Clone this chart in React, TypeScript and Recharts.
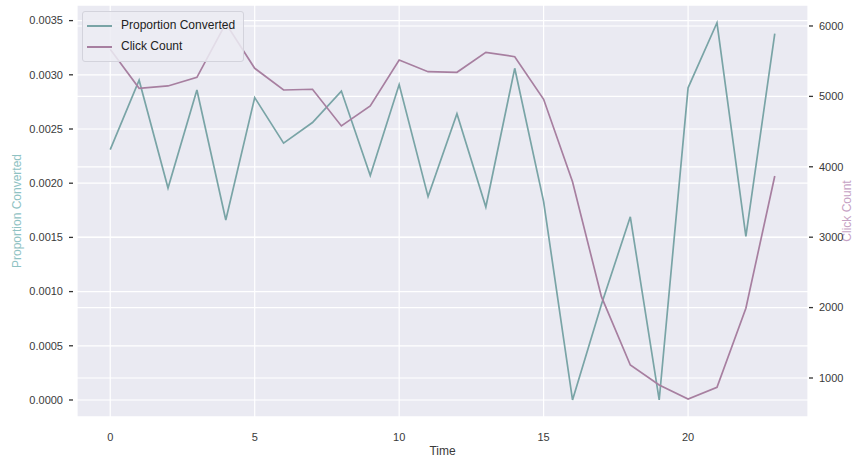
import React from "react";
import { LineChart, Line, XAxis, YAxis, CartesianGrid, Legend, Label } from "recharts";

const times = [0, 1, 2, 3, 4, 5, 6, 7, 8, 9, 10, 11, 12, 13, 14, 15, 16, 17, 18, 19, 20, 21, 22, 23];
const proportionConverted = [
  0.00231, 0.00295, 0.001955, 0.00286, 0.00166, 0.00279, 0.00237, 0.00256, 0.00285, 0.00207, 0.00291, 0.001876,
  0.00264, 0.00178, 0.00306, 0.00183, 0.0, 0.00088, 0.00169, 0.0, 0.00288, 0.00348, 0.00151, 0.00338,
];
const clickCount = [
  5669, 5115, 5148, 5271, 6038, 5399, 5091, 5101, 4580, 4864, 5517, 5351,
  5342, 5626, 5564, 4959, 3788, 2155, 1185, 900, 702, 868, 1990, 3869,
];
const timeTicks = [0, 5, 10, 15, 20];
const proportionTicks = [0, 0.0005, 0.001, 0.0015, 0.002, 0.0025, 0.003, 0.0035];
const clickTicks = [1000, 2000, 3000, 4000, 5000, 6000];
const legendOrder = ["Proportion Converted", "Click Count"];

const TEAL = "#79a4a6";
const PURPLE = "#a77fa0";
const TEXT = "#3a3a3a";

const data = times.map((t, i) => ({
  time: t,
  proportion: proportionConverted[i],
  clicks: clickCount[i],
}));

function LeftTick({ x, y, payload }: any) {
  return (
    <g>
      <line x1={x - 8} x2={x - 4} y1={y} y2={y} stroke="#333" strokeWidth={1.3} />
      <text x={x - 14} y={y} dy="0.35em" textAnchor="end" fontSize={11} fill={TEXT}>
        {Number(payload.value).toFixed(4)}
      </text>
    </g>
  );
}

function RightTick({ x, y, payload }: any) {
  return (
    <g>
      <line x1={x + 1} x2={x + 5} y1={y} y2={y} stroke="#333" strokeWidth={1.3} />
      <text x={x + 11} y={y} dy="0.35em" textAnchor="start" fontSize={11} fill={TEXT}>
        {payload.value}
      </text>
    </g>
  );
}

function BottomTick({ x, y, payload }: any) {
  return (
    <text x={x} y={y + 24} textAnchor="middle" fontSize={11} fill={TEXT}>
      {payload.value}
    </text>
  );
}

function LegendBox({ payload }: any) {
  const items = [...(payload || [])].sort(
    (a: any, b: any) => legendOrder.indexOf(a.value) - legendOrder.indexOf(b.value)
  );
  return (
    <div
      style={{
        background: "rgba(236,236,243,0.85)",
        border: "1px solid #d3d3dc",
        borderRadius: 3,
        padding: "3px 6px 4px 4px",
        fontSize: 12,
        color: "#222",
        lineHeight: "21px",
      }}
    >
      {items.map((p: any) => (
        <div key={p.value} style={{ display: "flex", alignItems: "center" }}>
          <svg width={25} height={4} style={{ marginRight: 9 }}>
            <line x1={0} x2={25} y1={2} y2={2} stroke={p.color} strokeWidth={2} />
          </svg>
          <span>{p.value}</span>
        </div>
      ))}
    </div>
  );
}

export default function App() {
  return (
    <div style={{ position: "absolute", left: 0, top: 0, fontFamily: "'Liberation Sans', Arial, sans-serif", background: "#fff" }}>
      <LineChart width={855} height={461} data={data} margin={{ top: 5, right: 0, bottom: 0, left: 0 }}>
        <CartesianGrid yAxisId="left" stroke="#ffffff" strokeWidth={1.2} fill="#eaeaf2" fillOpacity={1} />
        <CartesianGrid yAxisId="right" stroke="#ffffff" strokeWidth={1.2} vertical={false} />
        <XAxis
          dataKey="time"
          type="number"
          domain={[-1.15, 24.15]}
          ticks={timeTicks}
          axisLine={false}
          tickLine={false}
          tickSize={0}
          tickMargin={0}
          height={44}
          tick={<BottomTick />}
          allowDataOverflow
        >
          <Label
            content={({ viewBox }: any) => (
              <text x={viewBox.x + viewBox.width / 2} y={455} textAnchor="middle" fontSize={12} fill={TEXT}>
                Time
              </text>
            )}
          />
        </XAxis>
        <YAxis
          yAxisId="left"
          orientation="left"
          type="number"
          domain={[-0.000157, 0.003644]}
          ticks={proportionTicks}
          axisLine={false}
          tickLine={false}
          tickSize={0}
          tickMargin={0}
          width={77}
          tick={<LeftTick />}
          allowDataOverflow
        >
          <Label
            content={({ viewBox }: any) => {
              const cx = 17;
              const cy = viewBox.y + viewBox.height / 2;
              return (
                <text x={cx} y={cy} transform={`rotate(-90, ${cx}, ${cy})`} textAnchor="middle" dominantBaseline="central" fontSize={12} fill="#8fc2c3">
                  Proportion Converted
                </text>
              );
            }}
          />
        </YAxis>
        <YAxis
          yAxisId="right"
          orientation="right"
          type="number"
          domain={[446, 6298]}
          ticks={clickTicks}
          axisLine={false}
          tickLine={false}
          tickSize={0}
          tickMargin={0}
          width={47}
          tick={<RightTick />}
          allowDataOverflow
        >
          <Label
            content={({ viewBox }: any) => {
              const cx = 847;
              const cy = viewBox.y + viewBox.height / 2;
              return (
                <text x={cx} y={cy} transform={`rotate(-90, ${cx}, ${cy})`} textAnchor="middle" dominantBaseline="central" fontSize={12} fill="#c6a2c4">
                  Click Count
                </text>
              );
            }}
          />
        </YAxis>
        <Line
          yAxisId="left"
          type="linear"
          dataKey="proportion"
          name="Proportion Converted"
          stroke={TEAL}
          strokeWidth={1.7}
          dot={false}
          isAnimationActive={false}
        />
        <Line
          yAxisId="right"
          type="linear"
          dataKey="clicks"
          name="Click Count"
          stroke={PURPLE}
          strokeWidth={1.7}
          dot={false}
          isAnimationActive={false}
        />
        <Legend
          layout="vertical"
          align="center"
          verticalAlign="middle"
          wrapperStyle={{ left: 82, top: 11, width: 162 }}
          content={<LegendBox />}
        />
      </LineChart>
    </div>
  );
}
